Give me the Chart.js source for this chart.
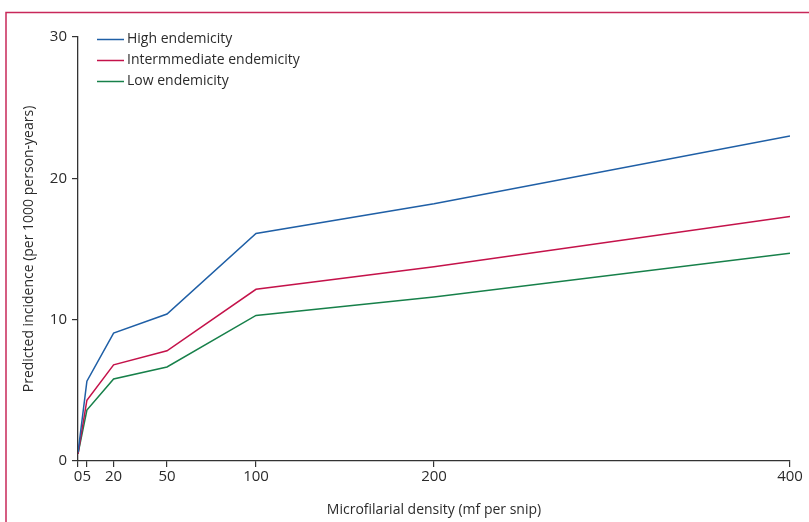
<!DOCTYPE html>
<html>
<head>
<meta charset="utf-8">
<script src="https://cdn.jsdelivr.net/npm/chart.js@4.4.0/dist/chart.umd.min.js"></script>
<style>
html,body{margin:0;padding:0;background:#fff;}
#wrap{position:relative;width:809px;height:522px;}
</style>
</head>
<body>
<div id="wrap"><canvas id="c" width="809" height="522"></canvas></div>
<script>
const densities = [0, 5, 20, 50, 100, 200, 400];
const xTicks = [0, 5, 20, 50, 100, 200, 400];
const yTicks = [0, 10, 20, 30];
const highEndemicity = [0.6, 5.65, 9.05, 10.4, 16.1, 18.2, 23.0];
const intermediateEndemicity = [0.5, 4.3, 6.8, 7.8, 12.15, 13.75, 17.3];
const lowEndemicity = [0.5, 3.6, 5.8, 6.65, 10.3, 11.6, 14.7];
const seriesLabels = ['High endemicity', 'Intermmediate endemicity', 'Low endemicity'];
const seriesColors = ['#1f5fa6', '#c4124a', '#17804a'];

const FONT = '"Open Sans", "Noto Sans", sans-serif';
const TEXT = '#2b2b2b';
const AXIS = '#333333';

const frame = {
  id: 'frame',
  beforeDraw(chart) {
    const ctx = chart.ctx;
    ctx.save();
    ctx.strokeStyle = '#c8285a';
    ctx.lineWidth = 1.5;
    ctx.beginPath();
    ctx.moveTo(6, 530);
    ctx.lineTo(6, 12.5);
    ctx.lineTo(820, 12.5);
    ctx.stroke();
    ctx.restore();
  }
};

const legendPlugin = {
  id: 'customLegend',
  afterDraw(chart) {
    const ctx = chart.ctx;
    ctx.save();
    ctx.font = '14px ' + FONT;
    ctx.textBaseline = 'middle';
    chart.data.datasets.forEach((ds, i) => {
      const y = 39.5 + i * 21;
      ctx.strokeStyle = ds.borderColor;
      ctx.lineWidth = 1.5;
      ctx.beginPath();
      ctx.moveTo(97, y);
      ctx.lineTo(124, y);
      ctx.stroke();
      ctx.fillStyle = TEXT;
      ctx.fillText(ds.label, 127, y);
    });
    ctx.restore();
  }
};

const datasets = [highEndemicity, intermediateEndemicity, lowEndemicity].map((vals, i) => ({
  label: seriesLabels[i],
  data: densities.map((x, j) => ({x: x, y: vals[j]})),
  borderColor: seriesColors[i],
  backgroundColor: seriesColors[i],
  borderWidth: 1.5,
  pointRadius: 0,
  tension: 0,
  fill: false
}));

new Chart(document.getElementById('c'), {
  type: 'line',
  data: { datasets },
  options: {
    responsive: false,
    animation: false,
    devicePixelRatio: 1,
    layout: { padding: { left: 0, right: 19, top: 37, bottom: 0 } },
    plugins: { legend: { display: false }, tooltip: { enabled: false } },
    scales: {
      x: {
        type: 'linear',
        min: 0, max: 400,
        afterBuildTicks: (axis) => { axis.ticks = xTicks.map(v => ({value: v})); },
        afterFit: (axis) => { axis.height = 61; },
        grid: { display: true, drawOnChartArea: false, tickLength: 6, color: AXIS, lineWidth: 1.2 },
        border: { display: true, color: AXIS, width: 1.3 },
        ticks: { color: TEXT, font: { family: FONT, size: 15 }, padding: 1, maxRotation: 0, autoSkip: false },
        title: { display: true, text: 'Microfilarial density (mf per snip)', color: TEXT, font: { family: FONT, size: 14 }, padding: { top: 4 } }
      },
      y: {
        min: 0, max: 30,
        afterBuildTicks: (axis) => { axis.ticks = yTicks.map(v => ({value: v})); },
        afterFit: (axis) => { axis.width = 78; },
        grid: { display: true, drawOnChartArea: false, tickLength: 6, color: AXIS, lineWidth: 1.2 },
        border: { display: true, color: AXIS, width: 1.3 },
        ticks: { color: TEXT, font: { family: FONT, size: 15 }, padding: 5 },
        title: { display: true, text: 'Predicted incidence (per 1000 person-years)', color: TEXT, font: { family: FONT, size: 14 }, padding: { top: 21, bottom: 0 } }
      }
    }
  },
  plugins: [frame, legendPlugin]
});
</script>
</body>
</html>
